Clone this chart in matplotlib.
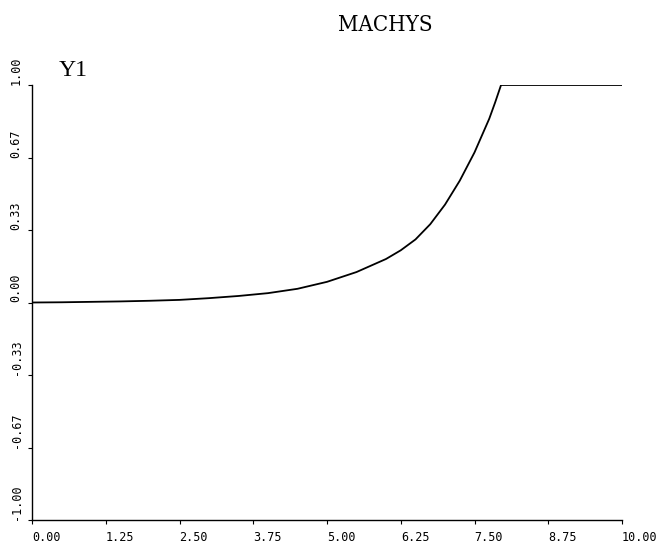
import matplotlib
matplotlib.use("Agg")
import matplotlib.pyplot as plt

# data
x_vals = [0.0, 0.5, 1.0, 1.5, 2.0, 2.5, 3.0, 3.5, 4.0, 4.5, 5.0, 5.5, 6.0, 6.25,
          6.5, 6.75, 7.0, 7.25, 7.5, 7.75, 7.85, 7.95, 10.0]
y_vals = [0.0, 0.001, 0.003, 0.005, 0.008, 0.012, 0.02, 0.03, 0.043, 0.063, 0.095,
          0.14, 0.20, 0.24, 0.29, 0.36, 0.45, 0.56, 0.69, 0.845, 0.92, 1.0, 1.0]

x_ticks = [0.0, 1.25, 2.5, 3.75, 5.0, 6.25, 7.5, 8.75, 10.0]
x_labels = ["0.00", "1.25", "2.50", "3.75", "5.00", "6.25", "7.50", "8.75", "10.00"]
y_ticks = [-1.0, -2/3, -1/3, 0.0, 1/3, 2/3, 1.0]
y_labels = ["-1.00", "-0.67", "-0.33", "0.00", "0.33", "0.67", "1.00"]

W, H = 663, 547
fig = plt.figure(figsize=(W/100, H/100), dpi=100)
ax = fig.add_axes([32/W, 1 - 520/H, (622-32)/W, (520-85)/H])

ax.plot(x_vals, y_vals, color="black", lw=1.3, solid_joinstyle="round")
ax.set_xlim(0, 10)
ax.set_ylim(-1, 1)

for s in ["top", "right"]:
    ax.spines[s].set_visible(False)
for s in ["left", "bottom"]:
    ax.spines[s].set_linewidth(1.0)
    ax.spines[s].set_color("black")

ax.set_xticks(x_ticks)
ax.set_xticklabels(x_labels, fontfamily="DejaVu Sans Mono", fontsize=8.5)
for t in ax.get_xticklabels():
    t.set_horizontalalignment("left")
ax.set_yticks(y_ticks)
ax.set_yticklabels([])
ax.tick_params(axis="both", direction="out", length=3, width=0.8, pad=5)

for v, lab in zip(y_ticks, y_labels):
    ax.text(-0.27, v, lab, rotation=90,
            ha="center", va="bottom", fontsize=8.5,
            fontfamily="DejaVu Sans Mono", transform=ax.transData, clip_on=False)

fig.text(385/W, 1 - 25/H, "MACHYS", ha="center", va="center",
         fontfamily="DejaVu Serif", fontstretch="condensed", fontsize=16)
fig.text(73/W, 1 - 70/H, "Y1", ha="center", va="center",
         fontfamily="Liberation Serif", fontsize=17)

fig.savefig("out.png", dpi=100)
